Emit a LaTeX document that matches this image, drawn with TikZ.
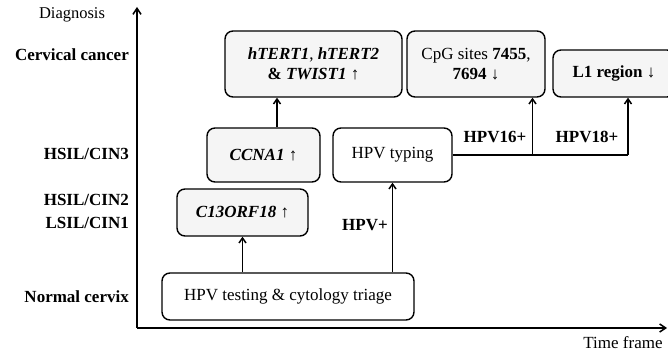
\documentclass[tikz,border=0pt]{standalone}
\usepackage{fontspec}
\setmainfont{Liberation Serif}
\usetikzlibrary{arrows.meta}
\begin{document}
\begin{tikzpicture}[x=1pt,y=1pt,
  box/.style={draw, line width=1.4pt, rounded corners=8pt, align=center, inner sep=0pt, font=\fontsize{17}{20}\selectfont},
  gbox/.style={box, fill=gray!8},
  wbox/.style={box, fill=white},
  lab/.style={font=\fontsize{17}{19}\selectfont\bfseries, inner sep=0pt},
  conn/.style={line width=1.5pt, -{Straight Barb[length=5pt,width=7pt]}},
  ax/.style={line width=1.5pt, -{Straight Barb[length=6pt,width=8pt]}}]
\useasboundingbox (0,0) rectangle (668,352);
% axes
\coordinate (o) at (137,24);
\coordinate (ytop) at (137,345);
\coordinate (xend) at (667,24);
\draw[ax] (o) -- (ytop);
\draw[ax] (o) -- (xend);
\node[font=\fontsize{16.5}{19}\selectfont, inner sep=0pt] (diag) at (72,337) {Diagnosis};
\node[font=\fontsize{17}{19}\selectfont, inner sep=0pt] (tf) at (623,9) {Time frame};
% left labels
\node[lab, anchor=east] (cc) at (129,297) {Cervical cancer};
\node[lab, anchor=east] (h3) at (129,198) {HSIL/CIN3};
\node[lab, anchor=east] (h2) at (129,152) {HSIL/CIN2};
\node[lab, anchor=east] (l1) at (129,129) {LSIL/CIN1};
\node[lab, anchor=east] (nc) at (129,55) {Normal cervix};
% boxes
\node[gbox, minimum width=177pt, minimum height=66pt] (ht) at (313.5,288) {\textbf{\textit{hTERT1}}, \textbf{\textit{hTERT2}}\\ \textbf{\& \textit{TWIST1}} ↑};
\node[gbox, minimum width=113pt, minimum height=54pt] (cc1) at (263.5,197) {\textbf{\textit{CCNA1}} ↑};
\node[gbox, minimum width=131pt, minimum height=47pt] (c13) at (242.5,139.5) {\textbf{\textit{C13ORF18}} ↑};
\node[wbox, minimum width=252pt, minimum height=47pt] (test) at (288,55.5) {HPV testing \& cytology triage};
\node[wbox, minimum width=119pt, minimum height=54pt] (typ) at (392.5,197) {HPV typing};
\node[gbox, minimum width=138pt, minimum height=66pt] (cpg) at (476,288) {CpG sites \textbf{7455},\\ \textbf{7694} ↓};
\node[gbox, minimum width=122pt, minimum height=47pt] (l1r) at (614,278.5) {\textbf{L1 region} ↓};
% connectors
\draw[conn] (test.north -| c13) -- (c13.south);
\draw[conn] (test.north -| typ) -- (typ.south);
\coordinate (a1) at (277,170);
\draw[conn] (a1 |- cc1.north) -- (a1 |- ht.south);
\coordinate (j1) at (532.5,197);
\coordinate (j2) at (628,197);
\draw[line width=1.5pt] (typ.east) -- (j2);
\draw[conn] (j1) -- (j1 |- cpg.south);
\draw[conn] (j2) -- (j2 |- l1r.south);
% connector labels
\node[lab] (hpvp) at (365,127) {HPV+};
\node[lab] (h16) at (495,215) {HPV16+};
\node[lab] (h18) at (587,215) {HPV18+};
\end{tikzpicture}
\end{document}
